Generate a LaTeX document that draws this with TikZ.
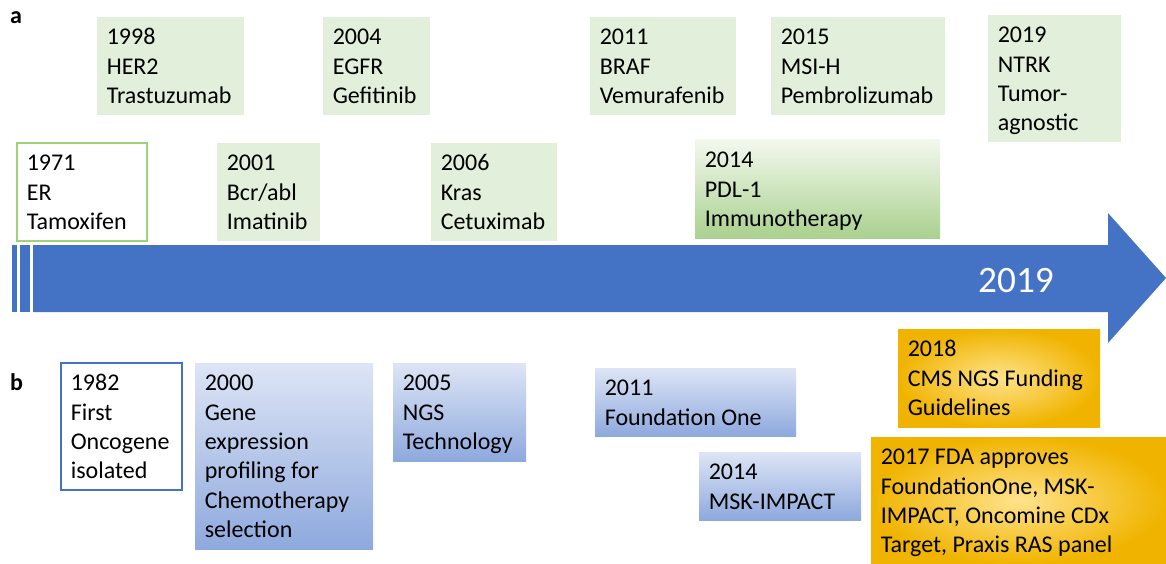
\documentclass[tikz,border=0pt]{standalone}
\usepackage{fontspec}
\setmainfont{Carlito}

\definecolor{armblue}{HTML}{4472C4}
\definecolor{boxgreen}{HTML}{E2EFDA}
\definecolor{edgegreen}{HTML}{A0D27A}
\definecolor{greenlo}{HTML}{A9D18E}
\definecolor{greenhi}{HTML}{F3F8EF}
\definecolor{bluehi}{HTML}{DDE5F5}
\definecolor{bluelo}{HTML}{8EA9DE}
\definecolor{goldin}{HTML}{FFE38C}
\definecolor{goldout}{HTML}{F0B400}

\tikzset{
  evbox/.style={anchor=north west, inner sep=0pt, outer sep=0pt},
  plain/.style={evbox, fill=boxgreen},
  outlinegreen/.style={evbox, fill=white, draw=edgegreen, line width=1.2pt},
  outlineblue/.style={evbox, fill=white, draw=armblue, line width=1.2pt},
  greenfade/.style={evbox, top color=greenhi, bottom color=greenlo},
  bluefade/.style={evbox, top color=bluehi, bottom color=bluelo},
  goldglow/.style={evbox, inner color=goldin, outer color=goldout},
  evtext/.style={anchor=north west, inner sep=0pt, align=left,
    font=\fontsize{24}{29.3}\selectfont, text=black},
  paneltag/.style={anchor=base west, inner sep=0pt,
    font=\fontsize{24}{28}\selectfont\bfseries},
}

% \tlbox{name}{left}{top}{width}{height}{style}{lines}
\newcommand\tlbox[7]{%
  \node[#6, minimum width=#4pt, minimum height=#5pt] (#1) at (#2,#3) {};
  \node[evtext] (#1-text) at ([xshift=9.6pt, yshift=-7.2pt]#1.north west) {\strut #7};
}

\begin{document}
\begin{tikzpicture}[x=1pt, y=-1pt]
\useasboundingbox (0,0) rectangle (1166,564);

% timeline arrow
\fill[armblue] (12,245) rectangle (17,312);
\fill[armblue] (20,245) rectangle (30,312);
\fill[armblue] (33,245) -- (1108,245) -- (1108,213) -- (1166,278)
  -- (1108,343) -- (1108,312) -- (33,312) -- cycle;
\node[anchor=base west, inner sep=0pt, text=white,
  font=\fontsize{37.3}{44}\selectfont] (arrowyear) at (978,292) {2019};

% panel a
\node[paneltag] (taga) at (10,24) {a};
\tlbox{a1998}{97}{17}{147}{98}{plain}{1998\\HER2\\Trastuzumab}
\tlbox{a2004}{323}{17}{107}{98}{plain}{2004\\EGFR\\Gefitinib}
\tlbox{a2011}{590}{17}{146}{98}{plain}{2011\\BRAF\\Vemurafenib}
\tlbox{a2015}{771}{17}{174}{98}{plain}{2015\\MSI-H\\Pembrolizumab}
\tlbox{a2019}{988}{15}{133}{127}{plain}{2019\\NTRK\\Tumor-\\agnostic}
\tlbox{a1971}{17}{143}{130}{98}{outlinegreen}{1971\\ER\\Tamoxifen}
\tlbox{a2001}{217}{143}{103}{98}{plain}{2001\\Bcr/abl\\Imatinib}
\tlbox{a2006}{431}{143}{126}{98}{plain}{2006\\Kras\\Cetuximab}
\tlbox{a2014}{695}{140}{245}{98}{greenfade}{2014\\PDL-1\\Immunotherapy}

% panel b
\node[paneltag] (tagb) at (10,390) {b};
\tlbox{b1982}{61}{363}{121}{127}{outlineblue}{1982\\First\\Oncogene\\isolated}
\tlbox{b2000}{195}{363}{178}{186}{bluefade}{2000\\Gene\\expression\\profiling for\\Chemotherapy\\selection}
\tlbox{b2005}{393}{363}{133}{98}{bluefade}{2005\\NGS\\Technology}
\tlbox{b2011}{595}{368}{201}{68}{bluefade}{2011\\Foundation One}
\tlbox{b2014}{699}{452}{162}{68}{bluefade}{2014\\MSK-IMPACT}
\tlbox{b2018}{898}{329}{202}{98}{goldglow}{2018\\CMS NGS Funding\\Guidelines}
\tlbox{b2017}{871}{437}{295}{127}{goldglow}{2017 FDA approves\\FoundationOne, MSK-\\IMPACT, Oncomine CDx\\Target, Praxis RAS panel}
\end{tikzpicture}
\end{document}
